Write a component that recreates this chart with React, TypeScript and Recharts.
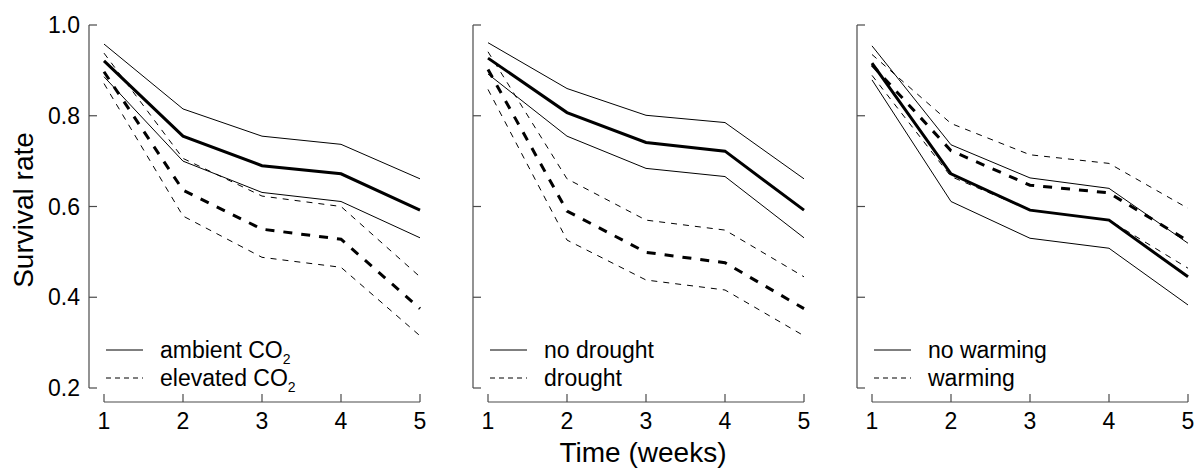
import React from 'react';
import { LineChart, Line, XAxis, YAxis } from 'recharts';

const weeks = [1, 2, 3, 4, 5];
const yTicks = [0.2, 0.4, 0.6, 0.8, 1.0];

// CO2 panel
const ambientMean = [0.921, 0.755, 0.69, 0.672, 0.592];
const ambientUpper = [0.958, 0.815, 0.755, 0.737, 0.661];
const ambientLower = [0.886, 0.7, 0.631, 0.611, 0.531];
const elevatedMean = [0.897, 0.636, 0.55, 0.528, 0.375];
const elevatedUpper = [0.938, 0.706, 0.623, 0.6, 0.445];
const elevatedLower = [0.871, 0.579, 0.488, 0.466, 0.315];

// drought panel
const noDroughtMean = [0.927, 0.807, 0.741, 0.722, 0.592];
const noDroughtUpper = [0.961, 0.86, 0.801, 0.785, 0.661];
const noDroughtLower = [0.892, 0.755, 0.684, 0.666, 0.531];
const droughtMean = [0.902, 0.59, 0.499, 0.476, 0.375];
const droughtUpper = [0.941, 0.661, 0.57, 0.548, 0.445];
const droughtLower = [0.858, 0.526, 0.438, 0.416, 0.315];

// warming panel
const noWarmingMean = [0.916, 0.672, 0.592, 0.57, 0.445];
const noWarmingUpper = [0.954, 0.736, 0.663, 0.64, 0.519];
const noWarmingLower = [0.879, 0.611, 0.53, 0.508, 0.383];
const warmingMean = [0.912, 0.723, 0.647, 0.63, 0.524];
const warmingUpper = [0.935, 0.783, 0.714, 0.695, 0.596];
const warmingLower = [0.889, 0.666, 0.592, 0.57, 0.464];

const FONT = '"Liberation Sans", Arial, Helvetica, sans-serif';
const AXIS = '#4a4a4a';

type LegendLabel = { text: string; sub?: string };

const buildRows = (
  cMean: number[], cUpper: number[], cLower: number[],
  tMean: number[], tUpper: number[], tLower: number[]
) =>
  weeks.map((week, i) => ({
    week,
    cMean: cMean[i], cUpper: cUpper[i], cLower: cLower[i],
    tMean: tMean[i], tUpper: tUpper[i], tLower: tLower[i],
  }));

const panels = [
  {
    rows: buildRows(ambientMean, ambientUpper, ambientLower, elevatedMean, elevatedUpper, elevatedLower),
    control: { text: 'ambient CO', sub: '2' } as LegendLabel,
    treatment: { text: 'elevated CO', sub: '2' } as LegendLabel,
  },
  {
    rows: buildRows(noDroughtMean, noDroughtUpper, noDroughtLower, droughtMean, droughtUpper, droughtLower),
    control: { text: 'no drought' } as LegendLabel,
    treatment: { text: 'drought' } as LegendLabel,
  },
  {
    rows: buildRows(noWarmingMean, noWarmingUpper, noWarmingLower, warmingMean, warmingUpper, warmingLower),
    control: { text: 'no warming' } as LegendLabel,
    treatment: { text: 'warming' } as LegendLabel,
  },
];

const LegendText = ({ label, y }: { label: LegendLabel; y: number }) => (
  <text x={160} y={y} fontSize={23} fontFamily={FONT} fill="#000">
    {label.text}
    {label.sub && (
      <tspan dy={6} fontSize={14}>{label.sub}</tspan>
    )}
  </text>
);

const Panel = ({ index }: { index: number }) => {
  const p = panels[index];
  const showLabels = index === 0;
  return (
    <div style={{ position: 'absolute', left: index * 384, top: 0, width: 440, height: 469 }}>
      <LineChart
        width={440}
        height={469}
        data={p.rows}
        margin={{ top: 25, right: 20, bottom: 0, left: 0 }}
      >
        <XAxis
          dataKey="week"
          type="number"
          domain={[1, 5]}
          ticks={weeks}
          interval={0}
          height={67}
          padding={{ left: 15, right: 0 }}
          tickSize={-8}
          tickMargin={19}
          axisLine={{ stroke: AXIS, strokeWidth: 1.2, strokeDasharray: '0 15 1000' }}
          tickLine={{ stroke: AXIS, strokeWidth: 1.2 }}
          tick={{ fontSize: 23, fill: '#000', fontFamily: FONT }}
        />
        <YAxis
          type="number"
          domain={[0.2, 1.0]}
          ticks={yTicks}
          interval={0}
          width={89}
          padding={{ top: 0, bottom: 14 }}
          tickSize={-8}
          tickMargin={17}
          axisLine={{ stroke: AXIS, strokeWidth: 1.2, strokeDasharray: '363 1000' }}
          tickLine={{ stroke: AXIS, strokeWidth: 1.2 }}
          tick={{ fontSize: 23, fill: '#000', fontFamily: FONT }}
          tickFormatter={(v: number) => (showLabels ? v.toFixed(1) : '')}
        />
        <Line dataKey="cUpper" type="linear" stroke="#000" strokeWidth={1} dot={false} isAnimationActive={false} />
        <Line dataKey="cLower" type="linear" stroke="#000" strokeWidth={1} dot={false} isAnimationActive={false} />
        <Line dataKey="tUpper" type="linear" stroke="#000" strokeWidth={1} strokeDasharray="6 6" dot={false} isAnimationActive={false} />
        <Line dataKey="tLower" type="linear" stroke="#000" strokeWidth={1} strokeDasharray="6 6" dot={false} isAnimationActive={false} />
        <Line dataKey="cMean" type="linear" stroke="#000" strokeWidth={3} dot={false} isAnimationActive={false} />
        <Line dataKey="tMean" type="linear" stroke="#000" strokeWidth={3} strokeDasharray="9 9" dot={false} isAnimationActive={false} />
      </LineChart>
      <svg
        width={440}
        height={469}
        style={{ position: 'absolute', left: 0, top: 0, pointerEvents: 'none' }}
      >
        <line x1={106} x2={143} y1={350} y2={350} stroke="#000" strokeWidth={1} />
        <line x1={106} x2={143} y1={378} y2={378} stroke="#000" strokeWidth={1} strokeDasharray="5 4" />
        <LegendText label={p.control} y={358} />
        <LegendText label={p.treatment} y={386} />
      </svg>
    </div>
  );
};

export default function App() {
  return (
    <div
      style={{
        position: 'absolute',
        left: 0,
        top: 0,
        width: 1194,
        height: 469,
        overflow: 'hidden',
        background: '#fff',
        fontFamily: FONT,
      }}
    >
      <Panel index={0} />
      <Panel index={1} />
      <Panel index={2} />
      <svg
        width={1194}
        height={469}
        style={{ position: 'absolute', left: 0, top: 0, pointerEvents: 'none' }}
      >
        <text
          transform="translate(33, 210) rotate(-90)"
          textAnchor="middle"
          fontSize={28}
          fontFamily={FONT}
          fill="#000"
        >
          Survival rate
        </text>
        <text x={643} y={462} textAnchor="middle" fontSize={28} fontFamily={FONT} fill="#000">
          Time (weeks)
        </text>
      </svg>
    </div>
  );
}
